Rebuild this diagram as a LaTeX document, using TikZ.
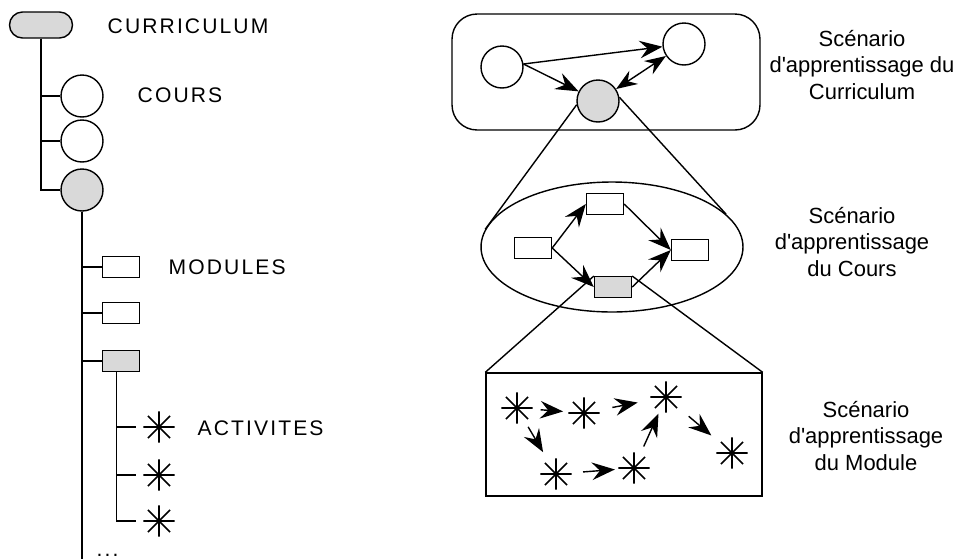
\documentclass[tikz,border=0pt]{standalone}
\usepackage{fontspec}
\setmainfont{Liberation Sans}
\newfontfamily\espace[LetterSpace=10]{Liberation Sans}
\usetikzlibrary{shapes.geometric,arrows.meta}
\definecolor{gris}{HTML}{D9D9D9}
\tikzset{
  cours/.style={circle, draw, minimum size=0.84cm, inner sep=0},
  module/.style={rectangle, draw, minimum width=0.74cm, minimum height=0.41cm, inner sep=0},
  activite/.style={circle, inner sep=0, minimum size=0.6cm},
  fleche/.style={-{Stealth[length=13pt,width=10pt,inset=4.5pt]}},
  dfleche/.style={{Stealth[length=12pt,width=9pt,inset=4pt]}-{Stealth[length=12pt,width=9pt,inset=4pt]}},
  titre/.style={font=\espace\fontsize{12}{15}\selectfont, anchor=west, inner sep=0},
  legende/.style={font=\fontsize{12.5}{15.3}\selectfont, align=center}
}
\begin{document}
\begin{tikzpicture}[x=0.02cm, y=-0.02cm, line width=0.8pt]
\useasboundingbox (0,0) rectangle (959,559);

\node[draw, fill=gris, rounded corners=0.26cm, minimum width=1.26cm, minimum height=0.52cm] (curr) at (41,25) {};
\node[cours] (c1) at (82,96) {};
\node[cours] (c2) at (82,141) {};
\node[cours, fill=gris] (c3) at (82,190) {};
\node[module] (m1) at (121,267) {};
\node[module] (m2) at (121,313) {};
\node[module, fill=gris] (m3) at (121,361) {};
\node[activite] (a1) at (159,427) {};
\node[activite] (a2) at (159,475) {};
\node[activite] (a3) at (159,521) {};
\coordinate (fin) at (82,559);

\foreach \c in {c1,c2,c3} \draw (curr.south) |- (\c.west);
\foreach \m in {m1,m2,m3} \draw (c3.south) |- (\m.west);
\draw (c3.south) -- (fin);
\foreach \a in {a1,a2,a3} \draw[shorten >=0.14cm] ([xshift=-0.09cm]m3.south) |- (\a.west);

\node[titre] (tcurr) at (107,26) {CURRICULUM};
\node[titre] (tcours) at (137,95) {COURS};
\node[titre] (tmod) at (168,267) {MODULES};
\node[titre] (tact) at (197,428) {ACTIVITES};
\node[titre] (tsuite) at (96,555) {...};

\node[draw, rounded corners=0.5cm, minimum width=6.16cm, minimum height=2.32cm] (cbox) at (606,72) {};
\node[cours] (u1) at (502,67) {};
\node[cours] (u2) at (684,44) {};
\node[cours, fill=gris] (u3) at (598,101) {};
\draw[fleche] (u1.8) -- (u2);
\draw[fleche] (u1.8) -- (u3);
\draw[dfleche] (u3) -- (u2);

\node[ellipse, draw, minimum width=5.24cm, minimum height=2.6cm, inner sep=0] (el) at (612,247) {};
\node[module] (r1) at (533,248) {};
\node[module] (r2) at (605,204) {};
\node[module] (r3) at (690,250) {};
\node[module, fill=gris] (r4) at (613,287) {};
\draw[fleche] (r1.east) -- (r2.west);
\draw[fleche] (r1.east) -- (r4.west);
\draw[fleche] (r2.east) -- (r3.west);
\draw[fleche] (r4.east) -- (r3.west);
\draw (u3.190) -- (el.172);
\draw (u3.10) -- (el.16);

\node[draw, minimum width=5.52cm, minimum height=2.46cm] (mbox) at (624,434.5) {};
\draw (r4.north west) -- (mbox.north west);
\draw (r4.north east) -- (mbox.north east);
\node[activite] (s1) at (517,408) {};
\node[activite] (s2) at (584,413) {};
\node[activite] (s3) at (666,397) {};
\node[activite] (s4) at (556,474) {};
\node[activite] (s5) at (634,468) {};
\node[activite] (s6) at (732,453) {};
\draw[fleche, shorten <=4.5pt, shorten >=3pt] (s1) -- (s2);
\draw[fleche, shorten <=7.5pt, shorten >=7.5pt] (s2) -- (s3);
\draw[fleche, shorten <=3.5pt, shorten >=5.5pt] (s1) -- (s4);
\draw[fleche, shorten <=6.5pt, shorten >=2pt] (s4) -- (s5);
\draw[fleche, shorten <=4.5pt, shorten >=1.5pt] (s5) -- (s3);
\draw[fleche, shorten <=8pt, shorten >=6.5pt] (s3) -- (s6);

\foreach \s in {a1,a2,a3,s1,s2,s3,s4,s5,s6}
  \draw[line width=0.9pt] (\s.north) -- (\s.south) (\s.west) -- (\s.east) (\s.45) -- (\s.225) (\s.135) -- (\s.315);

\node[legende] (lcurr) at (862,65) {Scénario\\d\textquotesingle apprentissage du\\Curriculum};
\node[legende] (lcours) at (852,242) {Scénario\\d\textquotesingle apprentissage\\du Cours};
\node[legende] (lmod) at (866,436) {Scénario\\d\textquotesingle apprentissage\\du Module};

\end{tikzpicture}
\end{document}
